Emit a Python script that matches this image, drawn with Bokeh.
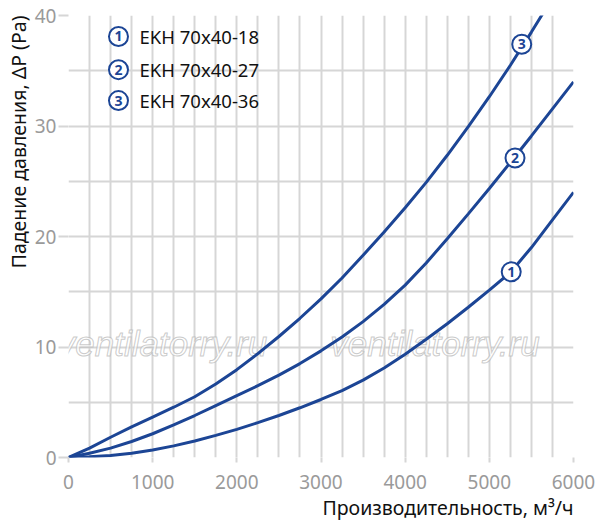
from bokeh.plotting import figure
from bokeh.models import FixedTicker, Range1d, ColumnDataSource, Title
from bokeh.core.properties import value
from bokeh.embed import file_html
from bokeh.resources import INLINE

# ---- data ----
q = [0, 250, 500, 750, 1000, 1250, 1500, 1750, 2000, 2250, 2500, 2750, 3000,
     3250, 3500, 3750, 4000, 4250, 4500, 4750, 5000, 5250, 5500, 5750, 6000]
dp1 = [0, 0.06, 0.18, 0.38, 0.68, 1.05, 1.5, 2.0, 2.55, 3.15, 3.8, 4.5, 5.25,
       6.05, 7.0, 8.1, 9.35, 10.7, 12.1, 13.6, 15.15, 16.75, 19.0, 21.5, 24.0]
dp2 = [0, 0.38, 0.85, 1.45, 2.15, 2.95, 3.8, 4.7, 5.6, 6.5, 7.45, 8.5, 9.65,
       10.9, 12.3, 13.85, 15.6, 17.6, 19.8, 22.05, 24.35, 26.7, 29.1, 31.55, 34.0]
q3 = q[:-1]
dp3 = [0, 0.85, 1.83, 2.77, 3.66, 4.55, 5.5, 6.65, 7.95, 9.4, 10.95, 12.6, 14.35,
       16.25, 18.3, 20.4, 22.6, 24.9, 27.35, 29.95, 32.65, 35.5, 38.5, 41.6]

series_labels = ["1", "2", "3"]
series_names = ["EKH 70x40-18", "EKH 70x40-27", "EKH 70x40-36"]
marker_q = [5260, 5305, 5385]
marker_dp = [16.8, 27.1, 37.4]

x_ticks = [0, 1000, 2000, 3000, 4000, 5000, 6000]
y_ticks = [0, 10, 20, 30, 40]
x_grid = list(range(0, 6001, 250))
y_grid = list(range(0, 41, 5))

x_title = "Производительность, м³/ч"
y_title = "Падение давления, ΔP (Pa)"
watermark = "ventilatorry.ru"

# ---- style ----
BLUE = "#1c4595"
GRID = "#d6d6d6"
TICKC = "#9a9a9a"
FONT = "Noto Sans"

p = figure(width=597, height=523, output_backend="svg", toolbar_location=None,
           x_range=Range1d(0, 6000), y_range=Range1d(0, 40),
           min_border_left=68, min_border_right=24, min_border_top=15, min_border_bottom=66)
p.outline_line_color = None
p.background_fill_color = "white"
p.border_fill_color = "white"

p.xgrid.ticker = FixedTicker(ticks=x_grid)
p.ygrid.ticker = FixedTicker(ticks=y_grid)
for g in (p.xgrid[0], p.ygrid[0]):
    g.grid_line_color = GRID
    g.grid_line_width = 2

p.xaxis.ticker = FixedTicker(ticks=x_ticks)
p.yaxis.ticker = FixedTicker(ticks=y_ticks)
for ax in (p.xaxis[0], p.yaxis[0]):
    ax.axis_line_color = None
    ax.major_tick_line_color = GRID
    ax.major_tick_line_width = 2
    ax.minor_tick_line_color = None
    ax.major_tick_in = 0
    ax.major_label_text_color = TICKC
    ax.major_label_text_font = FONT
    ax.major_label_text_font_size = "19px"
p.xaxis.major_tick_out = 5
p.yaxis.major_tick_out = 10
p.xaxis.major_label_standoff = 12
p.yaxis.major_label_standoff = 2

# axis titles, aligned to the far ends
xt = Title(text=x_title, align="right", text_font=FONT, text_font_size="19.5px",
           text_font_style="normal", text_color="#111111", standoff=0, offset=0)
yt = Title(text=y_title, align="right", text_font=FONT, text_font_size="19.5px",
           text_font_style="normal", text_color="#111111", standoff=0, offset=0)
p.add_layout(xt, "below")
p.add_layout(yt, "left")

# watermark
wm = p.text(x=[1117, 4354], y=[10.3, 10.3], text=[watermark, watermark],
            text_font=value("Liberation Sans"), text_font_size="35px",
            text_font_style="italic", text_align="center", text_baseline="middle",
            text_color="white", text_alpha=0.7)
if hasattr(wm.glyph, "text_outline_color"):
    wm.glyph.text_outline_color = "#b4b4b4"
else:
    wm.glyph.text_color = "#dddddd"

p.line(q, dp1, line_color=BLUE, line_width=3)
p.line(q, dp2, line_color=BLUE, line_width=3)
p.line(q3, dp3, line_color=BLUE, line_width=3)

# curve markers
msrc = ColumnDataSource(dict(x=marker_q, y=marker_dp, t=series_labels))
p.scatter("x", "y", source=msrc, size=19, fill_color="white", line_color=BLUE, line_width=2)
p.text("x", "y", text="t", source=msrc, text_color=BLUE, text_font=value(FONT),
       text_font_size="14px", text_font_style="bold", text_align="center", text_baseline="middle")

# legend (layout positions)
leg_x = [594, 594, 594]
leg_y = [38.1, 35.1, 32.3]
leg_tx = [844, 844, 844]
lsrc = ColumnDataSource(dict(x=leg_x, y=leg_y, tx=leg_tx, t=series_labels, n=series_names))
p.scatter("x", "y", source=lsrc, size=19, fill_color="white", line_color=BLUE, line_width=2)
p.text("x", "y", text="t", source=lsrc, text_color=BLUE, text_font=value(FONT),
       text_font_size="14px", text_font_style="bold", text_align="center", text_baseline="middle")
p.text("tx", "y", text="n", source=lsrc, text_color="#111111", text_font=value(FONT),
       text_font_size="18.5px", text_align="left", text_baseline="middle")

open("out.html", "w").write(file_html(p, INLINE))
